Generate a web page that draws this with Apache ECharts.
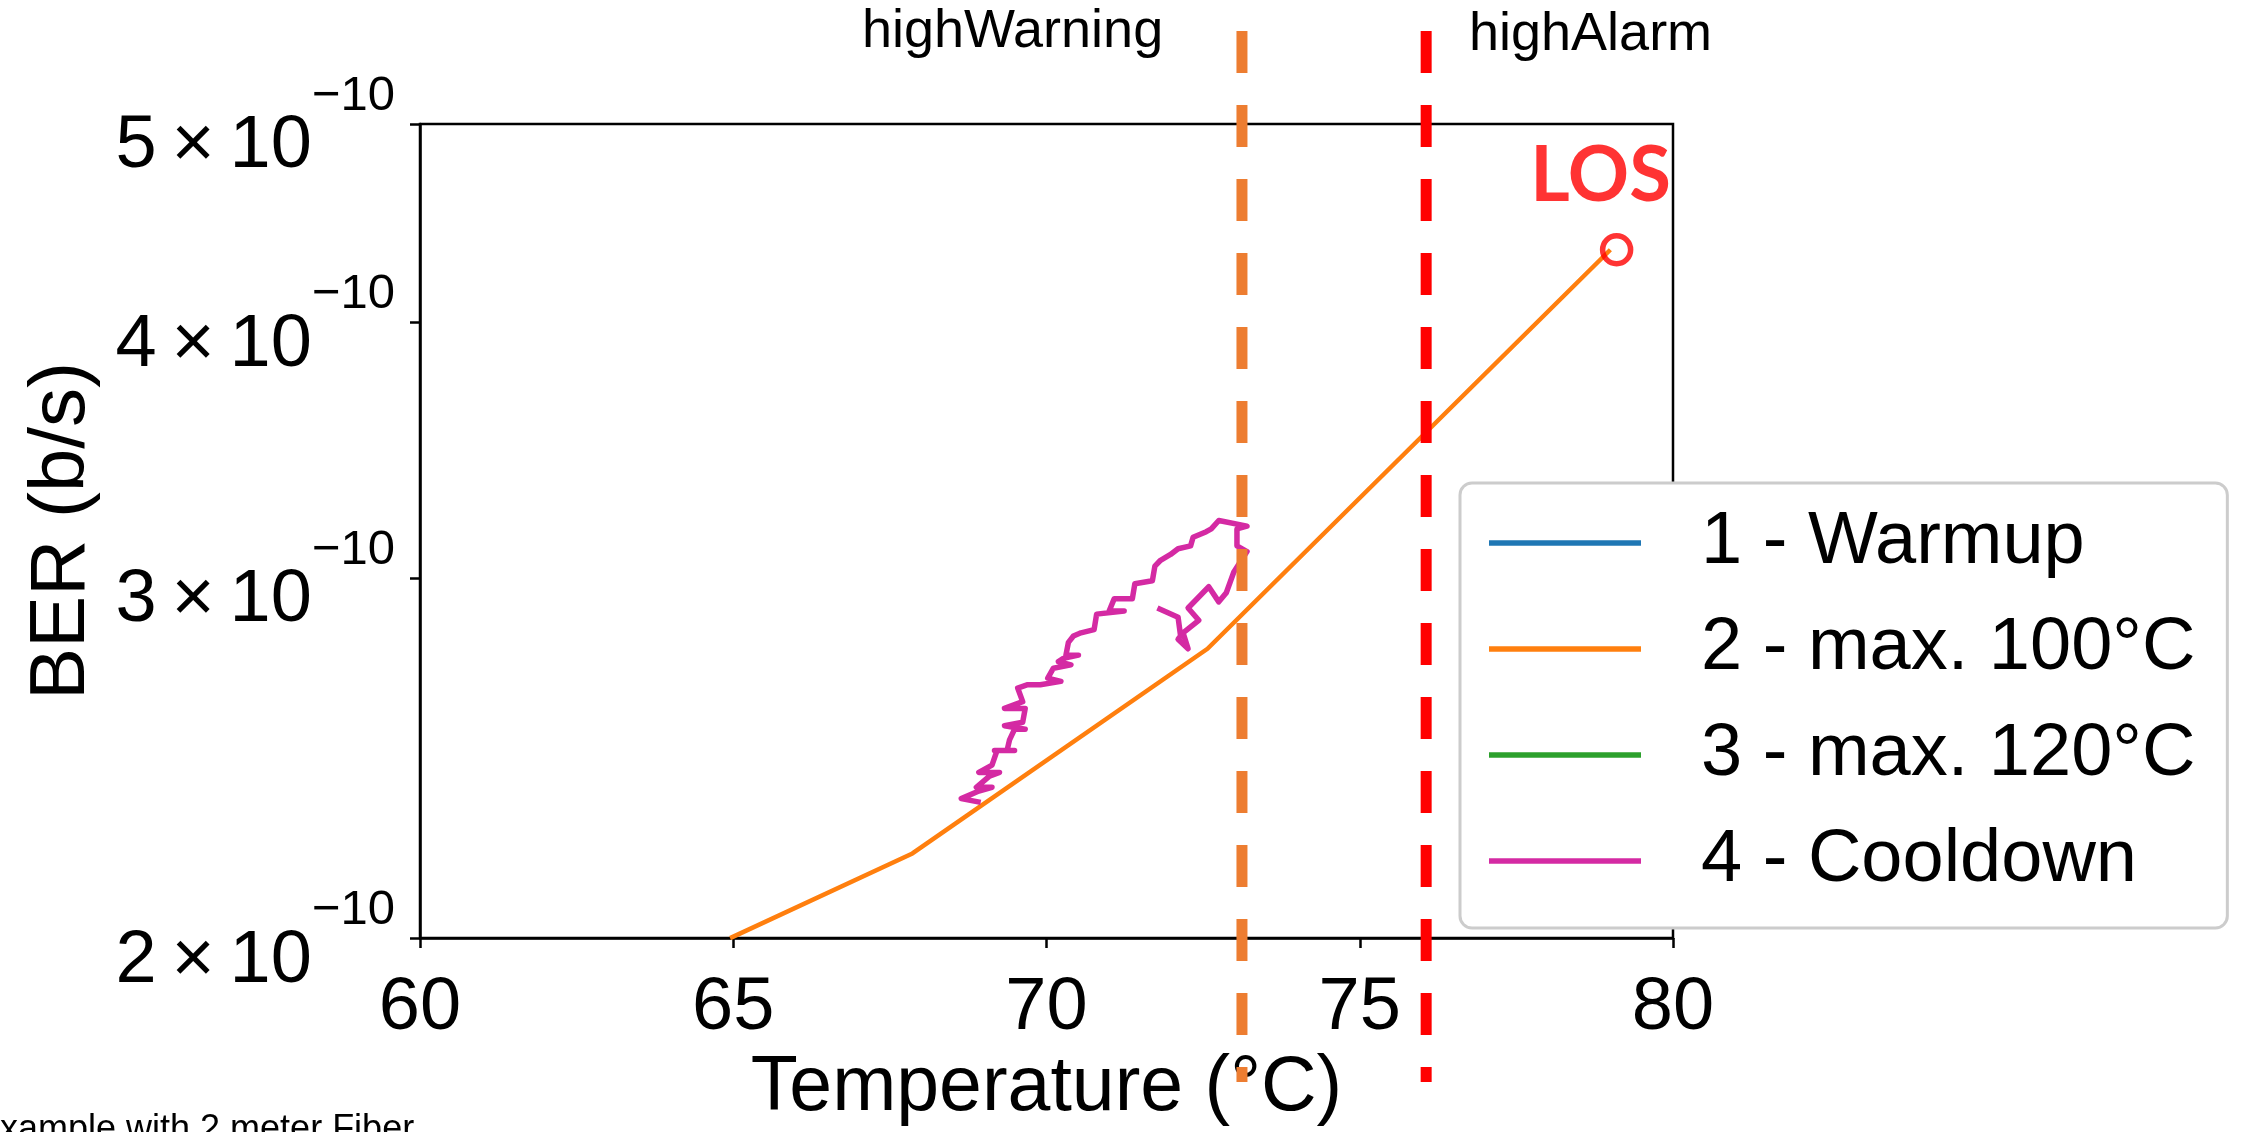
<!DOCTYPE html>
<html><head><meta charset="utf-8">
<script src="https://cdn.jsdelivr.net/npm/echarts@6/dist/echarts.min.js"></script>
<style>html,body{margin:0;padding:0;background:#fff;}#c{width:2241px;height:1132px;}</style>
</head><body><div id="c"></div>
<script>
const FONT = '"Liberation Sans", Arial, sans-serif';

// ---- data ----
const xMin = 60, xMax = 80, xInterval = 5;
const yTicks = [2e-10, 3e-10, 4e-10, 5e-10];

const warmupTemp = [];
const warmupBER = [];

const max100Temp = [64.95, 67.86, 72.57, 79.0];
const max100BER = [2.0e-10, 2.20e-10, 2.77e-10, 4.34e-10];

const max120Temp = [];
const max120BER = [];

const cooldownTemp = [71.77, 72.10, 72.14, 72.10, 72.26, 72.18, 72.43, 72.26, 72.59, 72.75, 72.87, 72.99, 73.20, 73.04, 73.04, 73.20, 72.75, 72.63, 72.55, 72.34, 72.30, 72.10, 71.98, 71.82, 71.73, 71.69, 71.41, 71.37, 71.08, 71.00, 71.24, 70.80, 70.76, 70.55, 70.43, 70.35, 70.31, 70.51, 70.27, 70.19, 70.39, 70.11, 70.02, 70.23, 69.90, 69.70, 69.54, 69.62, 69.33, 69.66, 69.62, 69.33, 69.66, 69.49, 69.41, 69.37, 69.17, 69.49, 69.21, 69.13, 68.92, 69.25, 69.09, 68.88, 69.13, 68.92, 68.64, 68.95];
const cooldownBER = [2.90e-10, 2.87e-10, 2.81e-10, 2.80e-10, 2.77e-10, 2.82e-10, 2.86e-10, 2.90e-10, 2.97e-10, 2.92e-10, 2.95e-10, 3.02e-10, 3.09e-10, 3.11e-10, 3.17e-10, 3.18e-10, 3.20e-10, 3.17e-10, 3.16e-10, 3.14e-10, 3.11e-10, 3.10e-10, 3.08e-10, 3.06e-10, 3.04e-10, 2.99e-10, 2.98e-10, 2.93e-10, 2.93e-10, 2.89e-10, 2.89e-10, 2.88e-10, 2.83e-10, 2.82e-10, 2.81e-10, 2.79e-10, 2.75e-10, 2.75e-10, 2.74e-10, 2.73e-10, 2.72e-10, 2.71e-10, 2.68e-10, 2.67e-10, 2.66e-10, 2.66e-10, 2.65e-10, 2.61e-10, 2.59e-10, 2.59e-10, 2.55e-10, 2.54e-10, 2.53e-10, 2.53e-10, 2.50e-10, 2.47e-10, 2.47e-10, 2.47e-10, 2.47e-10, 2.43e-10, 2.41e-10, 2.41e-10, 2.40e-10, 2.37e-10, 2.37e-10, 2.36e-10, 2.34e-10, 2.33e-10];

const losTemp = 79.1;
const losBER = 4.34e-10;

const thresholdNames = ['highWarning', 'highAlarm'];
const thresholdTemps = [73.12, 76.06];

const seriesNames = ['1 - Warmup', '2 - max. 100°C', '3 - max. 120°C', '4 - Cooldown'];
const seriesColors = ['#1f77b4', '#ff7f0e', '#2ca02c', '#d42aa3'];
const seriesWidths = [4.5, 4.5, 4.5, 5.5];
const thresholdColors = ['#ED7D31', '#FF0000'];

// ---- build ----
const lg = v => Math.log10(v);
const zip = (xs, ys) => xs.map((x, i) => [x, lg(ys[i])]);
const seriesData = [zip(warmupTemp, warmupBER), zip(max100Temp, max100BER), zip(max120Temp, max120BER), zip(cooldownTemp, cooldownBER)];

const chart = echarts.init(document.getElementById('c'), null, {renderer: 'canvas'});

const lineSeries = seriesNames.map((n, i) => ({
  name: n, type: 'line', xAxisIndex: 0, yAxisIndex: 0,
  data: seriesData[i], showSymbol: false, symbol: 'none',
  color: seriesColors[i],
  lineStyle: {color: seriesColors[i], width: seriesWidths[i], join: 'round'},
  z: 2
}));

const overlaySeries = thresholdTemps.map((t, i) => ({
  name: thresholdNames[i], type: 'line', xAxisIndex: 1, yAxisIndex: 1,
  data: [[t, 1], [t, 0]], symbol: 'none', silent: true,
  lineStyle: {color: thresholdColors[i], width: 11, type: [42, 32]},
  z: 6
}));

const option = {
  animation: false,
  backgroundColor: '#ffffff',
  grid: [
    {left: 420, right: 568, top: 124, bottom: 180, show: true, borderColor: '#000', borderWidth: 2.5, backgroundColor: 'transparent'},
    {left: 420, right: 568, top: 31, bottom: 50}
  ],
  xAxis: [
    {
      gridIndex: 0, type: 'value', min: xMin, max: xMax, interval: xInterval,
      axisLine: {show: true, lineStyle: {color: '#000', width: 2.5}},
      axisTick: {show: true, length: 10, lineStyle: {color: '#000', width: 2.5}},
      axisLabel: {fontSize: 74, lineHeight: 74, fontFamily: FONT, color: '#000', margin: 33},
      splitLine: {show: false},
      name: 'Temperature (°C)', nameLocation: 'middle', nameGap: 101,
      nameTextStyle: {fontSize: 77, lineHeight: 77, fontFamily: FONT, color: '#000'}
    },
    {gridIndex: 1, type: 'value', min: xMin, max: xMax, show: false}
  ],
  yAxis: [
    {
      gridIndex: 0, type: 'value', min: lg(yTicks[0]), max: lg(yTicks[yTicks.length - 1]),
      axisLine: {show: true, lineStyle: {color: '#000', width: 2.5}},
      axisTick: {show: true, length: 10, customValues: yTicks.map(lg), lineStyle: {color: '#000', width: 2.5}},
      axisLabel: {
        customValues: yTicks.map(lg),
        margin: 25,
        padding: [46, 0, 0, 0],
        formatter: function (v) {
          const m = Math.round(Math.pow(10, v) * 1e10);
          return '{a|' + m + '\u2009×\u200910}{s|\u221210}';
        },
        rich: {
          a: {fontSize: 74, lineHeight: 150, fontFamily: FONT, color: '#000', verticalAlign: 'middle'},
          s: {fontSize: 49, lineHeight: 49, fontFamily: FONT, color: '#000', verticalAlign: 'top'}
        }
      },
      splitLine: {show: false},
      name: 'BER (b/s)', nameLocation: 'middle', nameGap: 319,
      nameTextStyle: {fontSize: 78, lineHeight: 78, fontFamily: FONT, color: '#000'}
    },
    {gridIndex: 1, type: 'value', min: 0, max: 1, show: false}
  ],
  legend: {
    orient: 'vertical', left: 1460, top: 483,
    data: seriesNames, selectedMode: false,
    padding: [23, 32, 30, 29],
    itemWidth: 152, itemHeight: 5.5, itemGap: 32, icon: 'rect',
    textStyle: {fontSize: 74, lineHeight: 74, fontFamily: FONT, color: '#000', padding: [0, 0, 0, 55]},
    backgroundColor: '#ffffff', borderColor: '#cccccc', borderWidth: 3, borderRadius: 12
  },
  series: lineSeries.concat([{
    name: 'LOS', type: 'scatter', xAxisIndex: 0, yAxisIndex: 0,
    data: [[losTemp, lg(losBER)]], symbol: 'circle', symbolSize: 28,
    itemStyle: {color: 'rgba(0,0,0,0)', borderColor: '#ff0000', borderWidth: 5.5},
    label: {show: true, formatter: 'LOS', position: 'top', distance: 19, offset: [-16, 0],
      fontSize: 76, lineHeight: 76, fontWeight: 'bold', fontFamily: 'Lato, "Liberation Sans", sans-serif', color: '#ff0000'},
    z: 3
  }]).concat(overlaySeries),
  graphic: [
    {type: 'text', x: 862, y: 5, silent: true, style: {text: thresholdNames[0], fontSize: 54, fontFamily: FONT, fill: '#000', verticalAlign: 'top'}},
    {type: 'text', x: 1469, y: 8, silent: true, style: {text: thresholdNames[1], fontSize: 54, fontFamily: FONT, fill: '#000', verticalAlign: 'top'}},
    {type: 'text', x: -24, y: 1112, silent: true, style: {text: 'Example with 2 meter Fiber', fontSize: 36, fontFamily: FONT, fill: '#000', verticalAlign: 'top'}}
  ]
};
chart.setOption(option);
</script>
</body></html>
